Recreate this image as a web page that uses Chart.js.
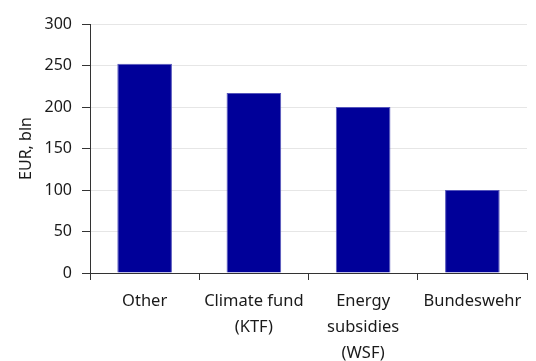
<!DOCTYPE html>
<html>
<head>
<meta charset="utf-8">
<script src="https://cdn.jsdelivr.net/npm/chart.js@4"></script>
<style>
  html, body { margin: 0; padding: 0; background: #fff; }
  #wrap { width: 536px; height: 361px; }
</style>
</head>
<body>
<div id="wrap"><canvas id="budgetChart" width="536" height="361"></canvas></div>
<script>
const categories = ['Other', ['Climate fund', '(KTF)'], ['Energy', 'subsidies', '(WSF)'], 'Bundeswehr'];
const spending = [252, 217, 200, 100];
const yTicks = [0, 50, 100, 150, 200, 250, 300];

const textColor = '#1a1a1a';
const axisFont = { family: 'Noto Sans', size: 16 };

const ctx = document.getElementById('budgetChart');
new Chart(ctx, {
    type: 'bar',
    data: {
        labels: categories,
        datasets: [{
            data: spending,
            backgroundColor: '#000099',
            borderColor: '#5555bb',
            borderWidth: 1,
            barPercentage: 0.5,
            categoryPercentage: 1.0
        }]
    },
    options: {
        responsive: false,
        animation: false,
        layout: { padding: { top: 24, right: 9, left: 0, bottom: 0 } },
        plugins: { legend: { display: false }, tooltip: { enabled: false } },
        scales: {
            x: {
                offset: true,
                grid: {
                    offset: true,
                    drawOnChartArea: false,
                    color: '#333',
                    tickLength: 7
                },
                border: { color: '#333', width: 1 },
                ticks: {
                    color: textColor,
                    font: { family: 'Noto Sans', size: 16.5, lineHeight: 1.58 },
                    padding: 8,
                    maxRotation: 0,
                    autoSkip: false
                },
                afterFit(scale) { scale.height = 88; }
            },
            y: {
                min: 0,
                max: 300,
                afterBuildTicks(scale) { scale.ticks = yTicks.map(v => ({ value: v })); },
                grid: {
                    color: '#e6e6e6',
                    tickColor: '#333',
                    tickLength: 8
                },
                border: { color: '#333', width: 1 },
                ticks: {
                    color: textColor,
                    font: axisFont,
                    padding: 10
                },
                title: {
                    display: true,
                    text: 'EUR, bln',
                    color: textColor,
                    font: axisFont,
                    padding: { top: 17, bottom: 0 }
                },
                afterFit(scale) { scale.width = 90; }
            }
        }
    }
});
</script>
</body>
</html>
